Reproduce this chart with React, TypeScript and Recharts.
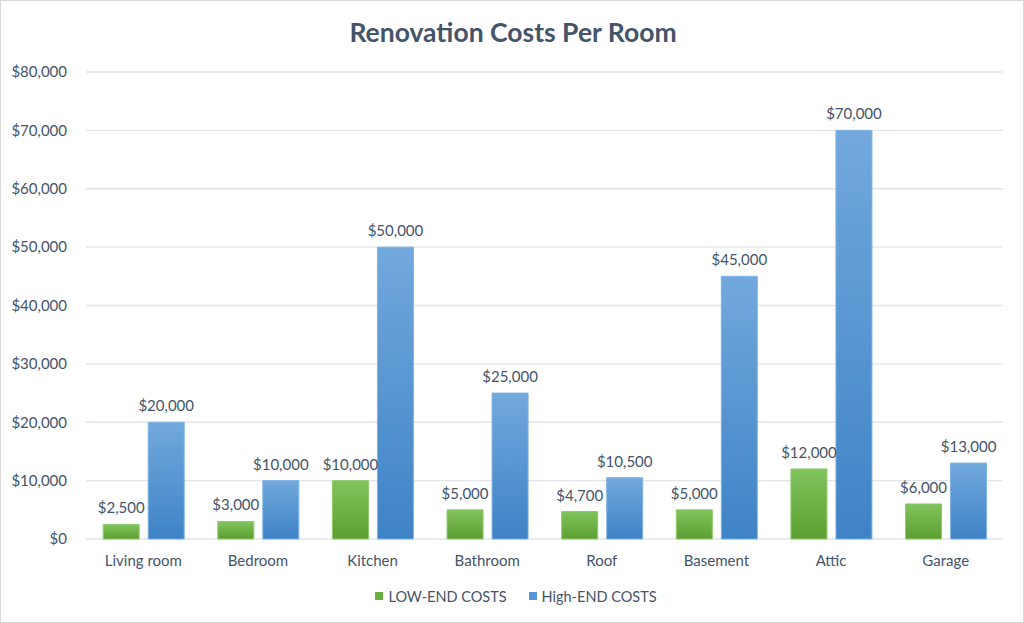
import React from "react";
import { Bar, BarChart, CartesianGrid, LabelList, Legend, XAxis, YAxis } from "recharts";

const rooms = ["Living room", "Bedroom", "Kitchen", "Bathroom", "Roof", "Basement", "Attic", "Garage"];
const lowEnd = [2500, 3000, 10000, 5000, 4700, 5000, 12000, 6000];
const highEnd = [20000, 10000, 50000, 25000, 10500, 45000, 70000, 13000];
const yTicks = [0, 10000, 20000, 30000, 40000, 50000, 60000, 70000, 80000];

const FONT = "Lato, 'Open Sans', sans-serif";
const TEXT = "#44546A";

const data = rooms.map((name, i) => ({ name, low: lowEnd[i], high: highEnd[i] }));

const money = (v: number) => "$" + v.toLocaleString("en-US");

function LegendContent() {
  const items = [
    { label: "LOW-END COSTS", color: "#6BAF3F" },
    { label: "High-END COSTS", color: "#5598D8" },
  ];
  return (
    <div style={{ height: 40, display: "flex", justifyContent: "center", alignItems: "center", gap: 22, paddingLeft: 28 }}>
      {items.map((it) => (
        <div key={it.label} style={{ display: "flex", alignItems: "center", gap: 5 }}>
          <span style={{ width: 8, height: 8, background: it.color, display: "inline-block" }} />
          <span style={{ fontFamily: FONT, fontSize: 14.5, color: TEXT }}>{it.label}</span>
        </div>
      ))}
    </div>
  );
}

export default function App() {
  return (
    <div
      style={{
        position: "absolute",
        left: 0,
        top: 0,
        width: 1024,
        height: 623,
        background: "#fff",
        boxSizing: "border-box",
        border: "1px solid #D9D9D9",
      }}
    >
      <div
        style={{
          position: "absolute",
          top: 15,
          left: 0,
          width: 1024,
          textAlign: "center",
          fontFamily: FONT,
          fontWeight: 700,
          fontSize: 26.5,
          color: TEXT,
        }}
      >
        Renovation Costs Per Room
      </div>
      <BarChart
        width={1022}
        height={621}
        data={data}
        margin={{ top: 71, right: 20, bottom: 6, left: 0 }}
        barCategoryGap="15%"
        barGap={9}
        style={{ position: "absolute", left: 0, top: 0 }}
      >
        <defs>
          <linearGradient id="gLow" x1="0" y1="0" x2="0" y2="1">
            <stop offset="0%" stopColor="#81C45C" />
            <stop offset="100%" stopColor="#5C9E31" />
          </linearGradient>
          <linearGradient id="gHigh" x1="0" y1="0" x2="0" y2="1">
            <stop offset="0%" stopColor="#72A8DD" />
            <stop offset="100%" stopColor="#3E83C6" />
          </linearGradient>
        </defs>
        <CartesianGrid vertical={false} stroke="#E1E4EA" strokeWidth={1.3} />
        <XAxis
          dataKey="name"
          height={37}
          axisLine={false}
          tickLine={false}
          tickSize={0}
          tickMargin={16}
          tick={{ fill: TEXT, fontSize: 15, fontFamily: FONT }}
        />
        <YAxis
          width={85}
          domain={[0, 80000]}
          ticks={yTicks}
          tickFormatter={money}
          axisLine={false}
          tickLine={false}
          tickSize={0}
          tickMargin={19}
          tick={{ fill: TEXT, fontSize: 15, fontFamily: FONT }}
        />
        <Legend verticalAlign="bottom" height={40} content={<LegendContent />} />
        <Bar dataKey="low" name="LOW-END COSTS" fill="url(#gLow)" stroke="#8CCB6A" strokeWidth={1} isAnimationActive={false}>
          <LabelList dataKey="low" position="top" offset={11} formatter={(v: any) => money(Number(v))} style={{ fill: TEXT, fontSize: 15, fontFamily: FONT }} />
        </Bar>
        <Bar dataKey="high" name="High-END COSTS" fill="url(#gHigh)" stroke="#7FB2E2" strokeWidth={1} isAnimationActive={false}>
          <LabelList dataKey="high" position="top" offset={11} formatter={(v: any) => money(Number(v))} style={{ fill: TEXT, fontSize: 15, fontFamily: FONT }} />
        </Bar>
      </BarChart>
    </div>
  );
}
